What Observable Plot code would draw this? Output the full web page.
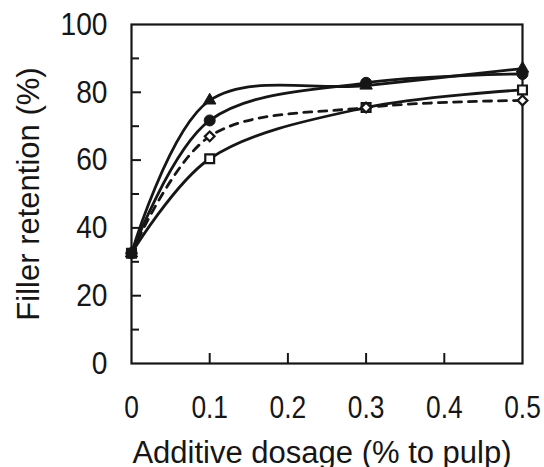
<!DOCTYPE html>
<html>
<head>
<meta charset="utf-8">
<script src="https://cdn.jsdelivr.net/npm/d3@7"></script>
<script src="https://cdn.jsdelivr.net/npm/@observablehq/plot@0.6"></script>
<style>
  html, body { margin: 0; padding: 0; background: #fff; }
  #chart svg { display: block; }
</style>
</head>
<body>
<div id="chart"></div>
<script>
// Data
const dosage = [0, 0.1, 0.3, 0.5];
const triangleSeries = [32.5, 77.6, 82.0, 87.0];
const circleSeries   = [32.5, 71.7, 82.8, 85.4];
const diamondSeries  = [32.5, 67.0, 75.5, 77.6];
const squareSeries   = [32.5, 60.4, 75.5, 80.7];

const xTicks = [0, 0.1, 0.2, 0.3, 0.4, 0.5];
const xInnerTicks = [0.1, 0.2, 0.3, 0.4];
const yTicks = [0, 20, 40, 60, 80, 100];
const yMajorInner = [20, 40, 60, 80];
const yMinorInner = [10, 30, 50, 70, 90];

const xTitle = "Additive dosage (% to pulp)";
const yTitle = "Filler retention (%)";

const toRows = (vals) => dosage.map((d, i) => ({x: d, y: vals[i]}));
const tri = toRows(triangleSeries);
const cir = toRows(circleSeries);
const dia = toRows(diamondSeries);
const sq  = toRows(squareSeries);

const W = 544, H = 467;
const mL = 131, mR = 22, mT = 24, mB = 104;
const pw = W - mL - mR, ph = H - mT - mB;
const font = "'Liberation Sans', Arial, sans-serif";
const curve = "catmull-rom";
const lw = 2.8;
const ink = "#161616";

const chart = Plot.plot({
  width: W,
  height: H,
  marginLeft: mL, marginRight: mR, marginTop: mT, marginBottom: mB,
  style: {fontFamily: font, fontSize: "31px", color: ink, background: "#fff"},
  x: {domain: [0, 0.5]},
  y: {domain: [0, 100]},
  marks: [
    Plot.axisX(xTicks, {tickSize: 0, tickPadding: 32, fontSize: 31, tickFormat: d => String(d), label: null, fill: ink}),
    Plot.axisY(yTicks, {tickSize: 0, tickPadding: 24, fontSize: 32, tickFormat: d => String(d), label: null, fill: ink}),
    // inward ticks
    Plot.ruleY(yMajorInner, {y: d => d, insetRight: pw - 10, stroke: ink, strokeWidth: 2}),
    Plot.ruleY(yMinorInner, {y: d => d, insetRight: pw - 8, stroke: ink, strokeWidth: 2}),
    Plot.ruleX(xInnerTicks, {x: d => d, insetTop: ph - 10, stroke: ink, strokeWidth: 2}),
    Plot.frame({stroke: ink, strokeWidth: 2.2}),
    // curves
    Plot.line(sq,  {x: "x", y: "y", curve, stroke: ink, strokeWidth: lw}),
    Plot.line(dia, {x: "x", y: "y", curve, stroke: ink, strokeWidth: lw, strokeDasharray: "8,7"}),
    Plot.line(cir, {x: "x", y: "y", curve, stroke: ink, strokeWidth: lw}),
    Plot.line(tri, {x: "x", y: "y", curve, stroke: ink, strokeWidth: lw}),
    // markers
    Plot.dot(sq,  {x: "x", y: "y", symbol: "square", r: 5, fill: "#fff", stroke: ink, strokeWidth: 2.2}),
    Plot.dot(dia, {x: "x", y: "y", symbol: "diamond2", r: 4.4, fill: "#fff", stroke: ink, strokeWidth: 2.2}),
    Plot.dot(cir, {x: "x", y: "y", symbol: "circle", r: 5.5, fill: ink, stroke: ink, strokeWidth: 1}),
    Plot.dot(tri, {x: "x", y: "y", symbol: "triangle", r: 4.6, fill: ink, stroke: ink, strokeWidth: 1}),
    // axis titles
    Plot.text([xTitle], {text: d => d, frameAnchor: "bottom", dy: 77, dx: -5, lineAnchor: "top", fontSize: 31, fill: ink}),
    Plot.text([yTitle], {text: d => d, frameAnchor: "left", dx: -102, rotate: -90, textAnchor: "middle", lineAnchor: "middle", fontSize: 31, fill: ink})
  ]
});

document.getElementById("chart").appendChild(chart);

// Narrow the tick-label numerals horizontally, like the reference's condensed digits
function squeeze(svg, label, sx) {
  svg.querySelectorAll(`g[aria-label="${label}"] text`).forEach(t => {
    const len = t.getComputedTextLength();
    if (len > 0) {
      t.setAttribute("textLength", (len * sx).toFixed(2));
      t.setAttribute("lengthAdjust", "spacingAndGlyphs");
    }
  });
}
squeeze(chart, "x-axis tick label", 0.85);
squeeze(chart, "y-axis tick label", 0.88);
</script>
</body>
</html>
